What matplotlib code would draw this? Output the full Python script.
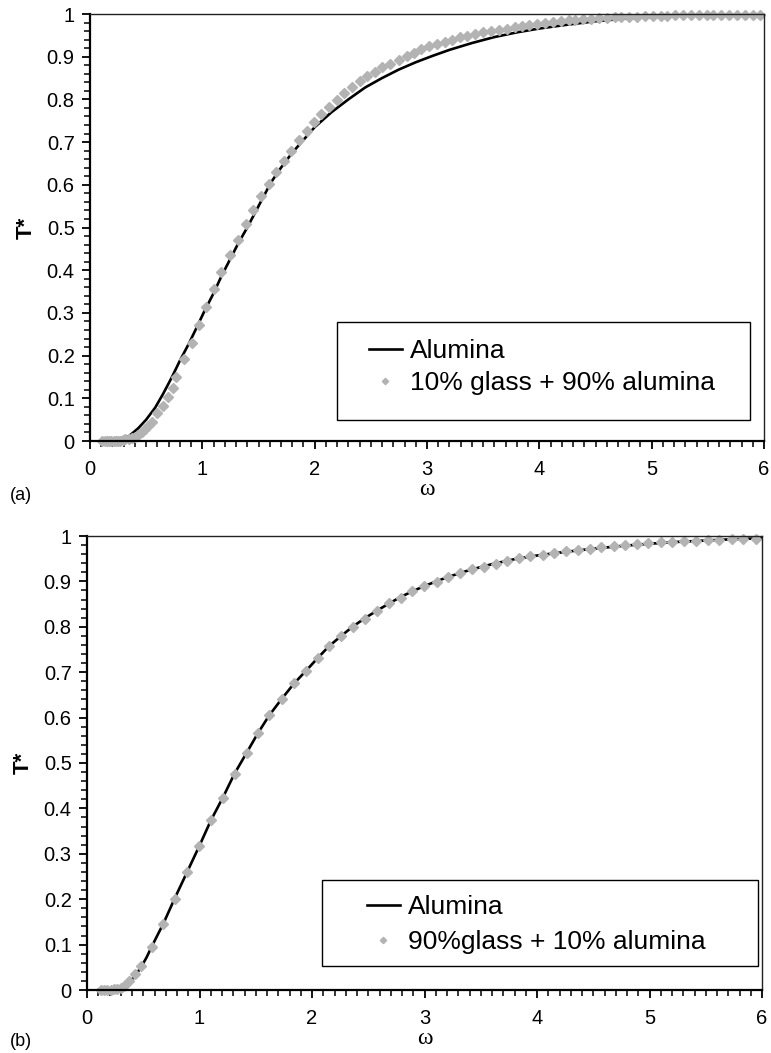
import matplotlib
matplotlib.use("Agg")
import matplotlib.pyplot as plt
from matplotlib.lines import Line2D
from matplotlib.patches import Rectangle
from matplotlib.ticker import MultipleLocator, FuncFormatter

plt.rcParams['font.family'] = ['Liberation Sans', 'DejaVu Sans']

# ---------------- data: panel (a) ----------------
alumina_a_w = [0.10, 0.20, 0.29, 0.35, 0.43, 0.50, 0.58, 0.65, 0.73, 0.80, 0.88, 0.95,
               1.02, 1.10, 1.17, 1.25, 1.32, 1.40, 1.47, 1.54, 1.61, 1.70, 1.80, 1.90,
               2.00, 2.15, 2.30, 2.45, 2.60, 2.75, 2.90, 3.05, 3.20, 3.40, 3.60, 3.80,
               4.00, 4.25, 4.50, 4.80, 5.10, 5.50, 6.00]
alumina_a_T = [0.0, 0.0, 0.004, 0.012, 0.030, 0.050, 0.078, 0.110, 0.150, 0.188, 0.228, 0.266,
               0.305, 0.346, 0.386, 0.427, 0.463, 0.50, 0.535, 0.57, 0.605, 0.64, 0.675, 0.705,
               0.735, 0.77, 0.80, 0.828, 0.85, 0.87, 0.887, 0.902, 0.916, 0.932, 0.946, 0.957,
               0.966, 0.975, 0.983, 0.99, 0.995, 0.998, 1.0]

glass10_w = [0.11, 0.13, 0.15, 0.17, 0.19, 0.21, 0.23, 0.25, 0.27, 0.29, 0.316, 0.345,
             0.375, 0.40, 0.43, 0.46, 0.49, 0.52, 0.55, 0.60, 0.646, 0.69, 0.735, 0.767,
             0.838, 0.905, 0.97, 1.035, 1.106, 1.17, 1.25, 1.32, 1.39, 1.45, 1.52, 1.59,
             1.66, 1.73, 1.79, 1.86, 1.93, 1.99, 2.06, 2.13, 2.20, 2.265, 2.33, 2.40,
             2.47, 2.54, 2.60, 2.675, 2.75, 2.82, 2.885, 2.95, 3.02, 3.09, 3.16, 3.22,
             3.29, 3.36, 3.43, 3.50, 3.57, 3.64, 3.71, 3.78, 3.85, 3.91, 3.98, 4.05,
             4.12, 4.19, 4.26, 4.32, 4.39, 4.46, 4.53, 4.60, 4.67, 4.73, 4.80, 4.87,
             4.94, 5.01, 5.08, 5.14, 5.21, 5.28, 5.35, 5.42, 5.49, 5.55, 5.62, 5.69,
             5.76, 5.83, 5.90, 5.96]
glass10_T = [0.0, 0.0, 0.0, 0.0, 0.0, 0.0, 0.0, 0.0, 0.001, 0.002, 0.004, 0.005,
             0.007, 0.009, 0.014, 0.02, 0.027, 0.035, 0.045, 0.066, 0.083, 0.104, 0.125, 0.149,
             0.191, 0.23, 0.272, 0.314, 0.355, 0.396, 0.436, 0.471, 0.508, 0.541, 0.574, 0.603,
             0.629, 0.656, 0.68, 0.705, 0.727, 0.747, 0.765, 0.782, 0.799, 0.815, 0.828, 0.842,
             0.854, 0.865, 0.876, 0.884, 0.893, 0.902, 0.909, 0.917, 0.924, 0.929, 0.935, 0.94,
             0.945, 0.949, 0.953, 0.957, 0.96, 0.963, 0.966, 0.969, 0.972, 0.974, 0.977, 0.979,
             0.981, 0.983, 0.985, 0.986, 0.988, 0.989, 0.99, 0.991, 0.992, 0.993, 0.994, 0.994,
             0.995, 0.996, 0.996, 0.996, 0.997, 0.997, 0.997, 0.998, 0.998, 0.998, 0.998, 0.998,
             0.998, 0.998, 0.998, 0.998]

# ---------------- data: panel (b) ----------------
alumina_b_w = [0.10, 0.20, 0.28, 0.33, 0.38, 0.43, 0.48, 0.53, 0.58, 0.68, 0.78, 0.89,
               1.00, 1.10, 1.21, 1.31, 1.42, 1.52, 1.62, 1.73, 1.84, 1.95, 2.05, 2.15,
               2.26, 2.36, 2.47, 2.58, 2.69, 2.79, 2.90, 3.00, 3.20, 3.40, 3.60, 3.80,
               4.00, 4.25, 4.50, 4.75, 5.00, 5.25, 5.50, 5.75, 6.00]
alumina_b_T = [0.0, 0.0, 0.003, 0.008, 0.018, 0.032, 0.05, 0.072, 0.098, 0.147, 0.202, 0.26,
               0.318, 0.373, 0.425, 0.476, 0.523, 0.566, 0.605, 0.641, 0.675, 0.704, 0.731, 0.757,
               0.78, 0.80, 0.819, 0.836, 0.852, 0.866, 0.879, 0.89, 0.909, 0.925, 0.938, 0.949,
               0.957, 0.965, 0.972, 0.978, 0.983, 0.987, 0.990, 0.993, 0.995]

glass90_w = [0.12, 0.15, 0.18, 0.21, 0.24, 0.27, 0.30, 0.33, 0.375, 0.43, 0.48, 0.576,
             0.677, 0.78, 0.887, 0.996, 1.102, 1.208, 1.312, 1.418, 1.519, 1.622, 1.731, 1.838,
             1.948, 2.05, 2.154, 2.258, 2.361, 2.473, 2.58, 2.686, 2.79, 2.893, 2.996, 3.109,
             3.212, 3.316, 3.419, 3.528, 3.632, 3.735, 3.84, 3.94, 4.05, 4.15, 4.26, 4.36,
             4.47, 4.57, 4.68, 4.78, 4.89, 4.99, 5.10, 5.20, 5.31, 5.41, 5.52, 5.62,
             5.73, 5.83, 5.95]
glass90_T = [0.0, 0.0, 0.0, 0.001, 0.002, 0.003, 0.005, 0.009, 0.02, 0.035, 0.052, 0.095,
             0.145, 0.201, 0.259, 0.317, 0.374, 0.424, 0.476, 0.522, 0.566, 0.606, 0.640, 0.676,
             0.703, 0.732, 0.758, 0.78, 0.80, 0.818, 0.835, 0.853, 0.864, 0.879, 0.89, 0.899,
             0.91, 0.918, 0.927, 0.932, 0.939, 0.946, 0.952, 0.956, 0.959, 0.963, 0.966, 0.969,
             0.972, 0.975, 0.978, 0.980, 0.982, 0.984, 0.986, 0.987, 0.988, 0.989, 0.991, 0.992,
             0.993, 0.993, 0.994]

labels_a = ["Alumina", "10% glass + 90% alumina"]
labels_b = ["Alumina", "90%glass + 10% alumina"]
x_ticks = [0, 1, 2, 3, 4, 5, 6]
y_ticks = [0, 0.1, 0.2, 0.3, 0.4, 0.5, 0.6, 0.7, 0.8, 0.9, 1]

# ---------------- figure ----------------
W, H = 771, 1053
fig = plt.figure(figsize=(W / 100, H / 100), dpi=100)

def frac(l, t, r, b):
    return [l / W, 1 - b / H, (r - l) / W, (b - t) / H]

AX_A = (90, 14, 764, 441)
AX_B = (87, 536, 762, 990)
ax_a = fig.add_axes(frac(*AX_A))
ax_b = fig.add_axes(frac(*AX_B))

GRAY = '#b3b3b3'

def style(ax):
    ax.set_xlim(0, 6)
    ax.set_ylim(0, 1)
    ax.set_xticks(x_ticks)
    ax.set_yticks(y_ticks)
    ax.xaxis.set_minor_locator(MultipleLocator(0.1))
    ax.yaxis.set_minor_locator(MultipleLocator(0.02))
    ax.yaxis.set_major_formatter(FuncFormatter(lambda v, p: ('%g' % round(v, 2))))
    ax.tick_params(which='major', direction='out', length=6, width=1.3, labelsize=14.5, pad=5)
    ax.tick_params(which='minor', direction='out', length=4.5, width=1.1)
    ax.tick_params(axis='x', which='major', pad=8)
    for s in ('left', 'bottom'):
        ax.spines[s].set_linewidth(1.6)
    for s in ('top', 'right'):
        ax.spines[s].set_linewidth(1.0)
        ax.spines[s].set_color('#222222')
    ax.set_ylabel('T*', fontsize=16, fontweight='bold', labelpad=7)
    ax.set_xlabel('ω', fontsize=17, family=['Liberation Serif', 'DejaVu Serif'], labelpad=0)
    for sp in ax.spines.values():
        sp.set_zorder(5)

# panel a
ax_a.plot(alumina_a_w, alumina_a_T, color='black', lw=1.9, zorder=3)
ax_a.plot(glass10_w, glass10_T, ls='none', marker='D', ms=5.2, color=GRAY, mec=GRAY, zorder=4, clip_on=False)
style(ax_a)

# panel b
ax_b.plot(alumina_b_w, alumina_b_T, color='black', lw=1.9, zorder=3)
ax_b.plot(glass90_w, glass90_T, ls='none', marker='D', ms=5.2, color=GRAY, mec=GRAY, zorder=4, clip_on=False)
style(ax_b)

def add_legend(ax, labels, box_px, anchor_px, ax_px, spacing):
    l, t, r, b = ax_px
    def to_ax(x, y):
        return (x - l) / (r - l), (b - y) / (b - t)
    x0, y0 = to_ax(box_px[0], box_px[3])
    x1, y1 = to_ax(box_px[2], box_px[1])
    ax.add_patch(Rectangle((x0, y0), x1 - x0, y1 - y0, transform=ax.transAxes,
                           facecolor='white', edgecolor='black', lw=1.0, zorder=6))
    handles = [Line2D([], [], color='black', lw=1.9),
               Line2D([], [], ls='none', marker='D', ms=3.2, color=GRAY, mec=GRAY)]
    ax_anchor = to_ax(*anchor_px)
    leg = ax.legend(handles, labels, loc='upper left', bbox_to_anchor=ax_anchor,
                    frameon=False, fontsize=19, borderpad=0, borderaxespad=0,
                    handlelength=1.25, handletextpad=0.3, labelspacing=spacing)
    leg.set_zorder(7)

add_legend(ax_a, labels_a, (337, 322, 750, 420), (369, 339), AX_A, 0.32)
add_legend(ax_b, labels_b, (322, 880, 758, 966), (367, 895), AX_B, 0.42)

fig.text(10 / W, 1 - 496 / H, '(a)', fontsize=13, va='center', ha='left')
fig.text(10 / W, 1 - 1041 / H, '(b)', fontsize=13, va='center', ha='left')

fig.savefig('out.png', dpi=100)
